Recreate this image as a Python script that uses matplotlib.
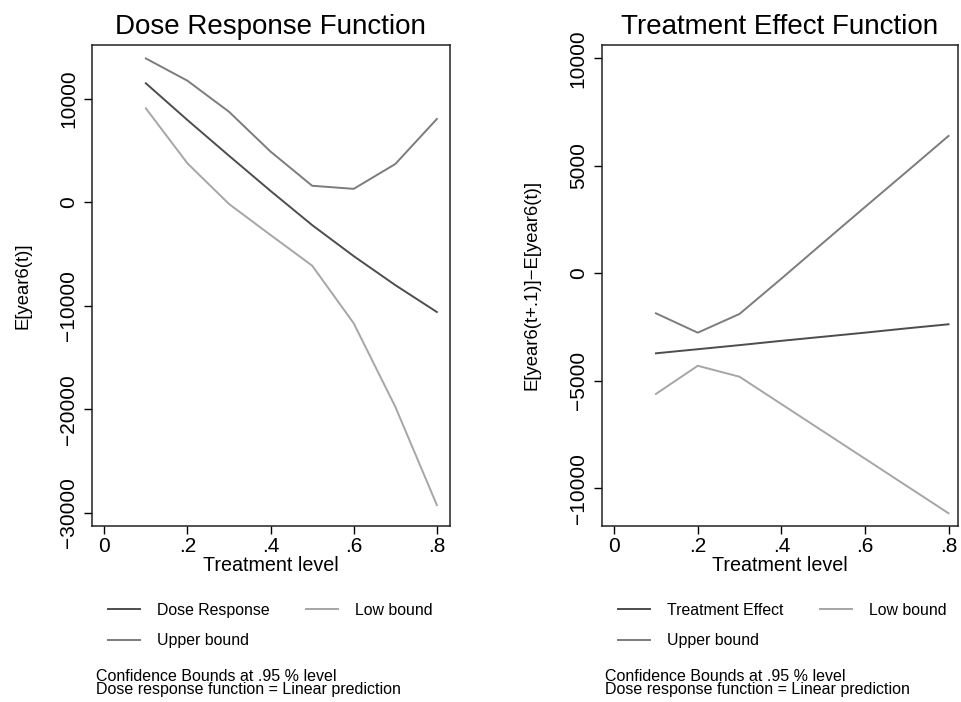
import matplotlib
matplotlib.use("Agg")
import matplotlib.pyplot as plt
from matplotlib.ticker import FuncFormatter

plt.rcParams["font.family"] = ["Liberation Sans", "DejaVu Sans"]

# ---- data ----
treat = [0.1, 0.2, 0.3, 0.4, 0.5, 0.6, 0.7, 0.8]

dose_resp = [11500, 7950, 4500, 1100, -2200, -5200, -8000, -10600]
dose_upper = [13900, 11750, 8750, 4900, 1600, 1300, 3700, 8050]
dose_low = [9080, 3770, -160, -3160, -6120, -11690, -19750, -29250]

te = [-3720, -3530, -3340, -3140, -2950, -2760, -2560, -2370]
te_upper = [-1860, -2760, -1890, -250, 1420, 3080, 4730, 6390]
te_low = [-5610, -4300, -4810, -6080, -7350, -8620, -9890, -11160]

x_ticks = [0, 0.2, 0.4, 0.6, 0.8]
dose_yticks = [-30000, -20000, -10000, 0, 10000]
te_yticks = [-10000, -5000, 0, 5000, 10000]

note = "Confidence Bounds at .95 % level\nDose response function = Linear prediction"

C_MAIN = "#4d4d4d"
C_UP = "#7c7c7c"
C_LOW = "#a6a6a6"


def fmt_x(v, pos):
    if abs(v) < 1e-9:
        return "0"
    return ("%.1f" % v).lstrip("0")


def style(ax, yticks):
    ax.set_xticks(x_ticks)
    ax.xaxis.set_major_formatter(FuncFormatter(fmt_x))
    ax.set_yticks(yticks)
    for lab in ax.get_yticklabels():
        lab.set_rotation(90)
        lab.set_va("center")
    ax.tick_params(direction="out", length=6, width=1, labelsize=15,
                   colors="black", pad=4)
    ax.tick_params(axis="x", pad=2)
    for s in ax.spines.values():
        s.set_linewidth(1.1)
        s.set_color("#222222")
    ax.set_xlabel("Treatment level", fontsize=14.2, labelpad=0)


fig = plt.figure(figsize=(9.61, 7.02), dpi=100)
fig.patch.set_facecolor("white")

ax1 = fig.add_axes([0.0957, 0.2511, 0.3723, 0.6848])
ax2 = fig.add_axes([0.626, 0.2511, 0.371, 0.6848])

h1, = ax1.plot(treat, dose_resp, color=C_MAIN, lw=1.4)
h2, = ax1.plot(treat, dose_low, color=C_LOW, lw=1.4)
h3, = ax1.plot(treat, dose_upper, color=C_UP, lw=1.4)
ax1.set_xlim(-0.0296, 0.831)
ax1.set_ylim(-31250, 15200)
style(ax1, dose_yticks)
ax1.set_ylabel("E[year6(t)]", fontsize=13.3, labelpad=20)
ax1.set_title("Dose Response Function", fontsize=20, pad=8)

g1, = ax2.plot(treat, te, color=C_MAIN, lw=1.4)
g2, = ax2.plot(treat, te_low, color=C_LOW, lw=1.4)
g3, = ax2.plot(treat, te_upper, color=C_UP, lw=1.4)
ax2.set_xlim(-0.030, 0.823)
ax2.set_ylim(-11740, 10620)
style(ax2, te_yticks)
ax2.set_ylabel("E[year6(t+.1)]\u2212E[year6(t)]", fontsize=13.3, labelpad=20)
ax2.set_title("Treatment Effect Function", fontsize=20, pad=8)

leg_kw = dict(ncol=2, frameon=False, fontsize=11.4, handlelength=2.0,
              handletextpad=1.1, columnspacing=2.3, labelspacing=0.95,
              borderpad=0, borderaxespad=0, loc="upper left",
              bbox_transform=fig.transFigure)
ax1.legend([h1, h3, h2], ["Dose Response", "Upper bound", "Low bound"],
           bbox_to_anchor=(108 / 961, 1 - 603 / 702), **leg_kw)
ax2.legend([g1, g3, g2], ["Treatment Effect", "Upper bound", "Low bound"],
           bbox_to_anchor=(618 / 961, 1 - 603 / 702), **leg_kw)

fig.text(96 / 961, 1 - 683 / 702, note, fontsize=11.5, va="center",
         linespacing=0.9)
fig.text(605 / 961, 1 - 683 / 702, note, fontsize=11.5, va="center",
         linespacing=0.9)

fig.savefig("out.png", dpi=100, facecolor="white")
